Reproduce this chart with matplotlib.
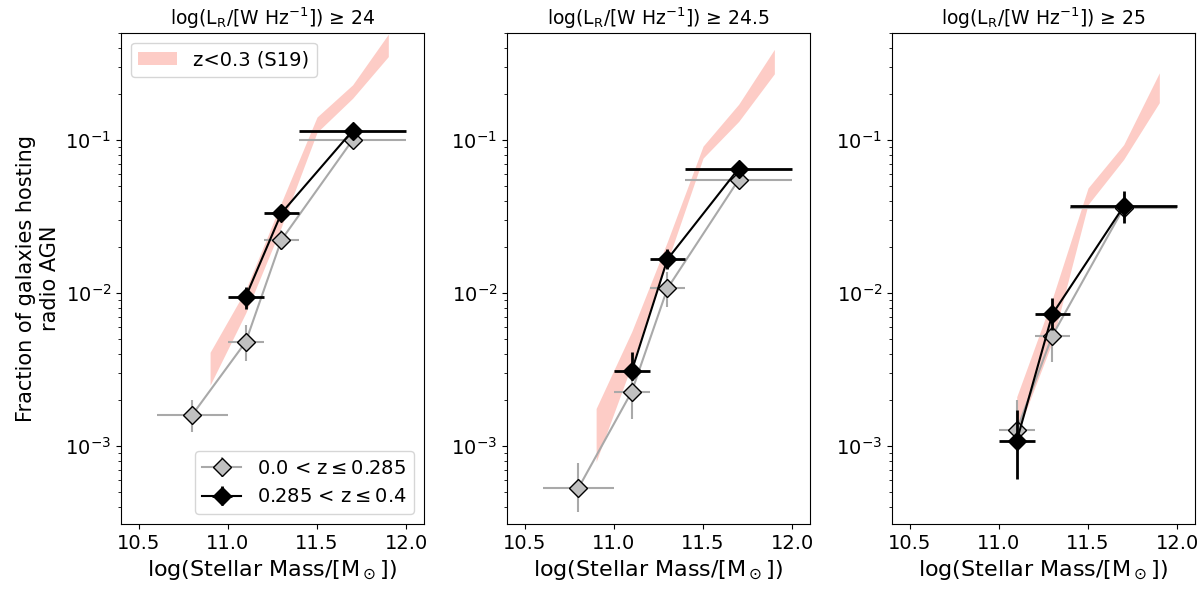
import numpy as np
import matplotlib
matplotlib.use('Agg')
import matplotlib.pyplot as plt

# stellar mass bins
mass = [10.8, 11.1, 11.3, 11.7]
mass_lo = [10.6, 11.0, 11.2, 11.4]
mass_hi = [11.0, 11.2, 11.4, 12.0]

# S19 band (z<0.3)
s19_mass = [10.9, 11.1, 11.3, 11.5, 11.7, 11.9]
s19_lo_24 = [0.0025, 0.0074, 0.027, 0.112, 0.187, 0.35]
s19_hi_24 = [0.0041, 0.0105, 0.039, 0.141, 0.229, 0.49]
s19_lo_245 = [0.00079, 0.0034, 0.016, 0.076, 0.132, 0.27]
s19_hi_245 = [0.00176, 0.0056, 0.0217, 0.091, 0.171, 0.39]
s19_mass_25 = [11.1, 11.3, 11.5, 11.7, 11.9]
s19_lo_25 = [0.00119, 0.0048, 0.0378, 0.0745, 0.175]
s19_hi_25 = [0.0021, 0.0092, 0.0485, 0.093, 0.274]

# low-z sample (0.0 < z <= 0.285)
lowz_24 = [0.0016, 0.00479, 0.0222, 0.100]
lowz_24_lo = [0.00124, 0.0036, 0.019, 0.094]
lowz_24_hi = [0.0020, 0.0062, 0.0258, 0.106]
lowz_245 = [0.00053, 0.00227, 0.0107, 0.055]
lowz_245_lo = [0.00037, 0.0015, 0.0081, 0.051]
lowz_245_hi = [0.00077, 0.0029, 0.0138, 0.058]
lowz_25 = [np.nan, 0.00127, 0.00527, 0.036]
lowz_25_lo = [np.nan, 0.00107, 0.00356, 0.030]
lowz_25_hi = [np.nan, 0.0020, 0.00684, 0.044]

# high-z sample (0.285 < z <= 0.4)
hiz_24 = [np.nan, 0.00944, 0.0332, 0.115]
hiz_24_lo = [np.nan, 0.0079, 0.031, 0.108]
hiz_24_hi = [np.nan, 0.0110, 0.036, 0.122]
hiz_245 = [np.nan, 0.0031, 0.0166, 0.065]
hiz_245_lo = [np.nan, 0.00272, 0.0143, 0.060]
hiz_245_hi = [np.nan, 0.00414, 0.0193, 0.070]
hiz_25 = [np.nan, 0.00108, 0.00727, 0.0368]
hiz_25_lo = [np.nan, 0.00061, 0.00574, 0.0286]
hiz_25_hi = [np.nan, 0.00173, 0.00925, 0.0461]

titles = [r'log(L$_{\rm R}$/[W Hz$^{-1}$]) ≥ 24',
          r'log(L$_{\rm R}$/[W Hz$^{-1}$]) ≥ 24.5',
          r'log(L$_{\rm R}$/[W Hz$^{-1}$]) ≥ 25']

panels = [
    (s19_mass, s19_lo_24, s19_hi_24, lowz_24, lowz_24_lo, lowz_24_hi, hiz_24, hiz_24_lo, hiz_24_hi),
    (s19_mass, s19_lo_245, s19_hi_245, lowz_245, lowz_245_lo, lowz_245_hi, hiz_245, hiz_245_lo, hiz_245_hi),
    (s19_mass_25, s19_lo_25, s19_hi_25, lowz_25, lowz_25_lo, lowz_25_hi, hiz_25, hiz_25_lo, hiz_25_hi),
]

fig = plt.figure(figsize=(12, 5.91), dpi=100)
lefts = [0.1008, 0.4225, 0.7433]
m = np.array(mass)
xerr = [m - np.array(mass_lo), np.array(mass_hi) - m]

for i, (sm, slo, shi, ly, lylo, lyhi, hy, hylo, hyhi) in enumerate(panels):
    ax = fig.add_axes([lefts[i], 0.1134, 0.2525, 0.831])
    ax.fill_between(sm, slo, shi, color='salmon', alpha=0.4, lw=0,
                    label='z<0.3 (S19)', zorder=1)
    ly = np.array(ly); hy = np.array(hy)
    lerr = [ly - np.array(lylo), np.array(lyhi) - ly]
    herr = [hy - np.array(hylo), np.array(hyhi) - hy]
    e1 = ax.errorbar(m, ly, xerr=xerr, yerr=lerr, fmt='-D', color='darkgray',
                     mfc='silver', mec='k', ms=9.5, lw=1.5, elinewidth=1.5,
                     zorder=2)
    e2 = ax.errorbar(m, hy, xerr=xerr, yerr=herr, fmt='-D', color='k',
                     mfc='k', mec='k', ms=9.5, lw=1.5, elinewidth=2,
                     zorder=3)
    ax.set_yscale('log')
    ax.set_ylim(3.1e-4, 0.5)
    ax.set_xlim(10.4, 12.1)
    ax.set_xticks([10.5, 11.0, 11.5, 12.0])
    ax.tick_params(labelsize=14)
    ax.set_xlabel(r'log(Stellar Mass/[M$_\odot$])', fontsize=16)
    ax.set_title(titles[i], fontsize=13.5)
    if i == 0:
        ax.set_ylabel('Fraction of galaxies hosting\nradio AGN', fontsize=15)
        band = ax.collections[0]
        leg1 = ax.legend([band], ['z<0.3 (S19)'], loc='upper left', fontsize=14)
        ax.add_artist(leg1)
        ax.legend([e1, e2], [r'0.0 < z$\leq$0.285', r'0.285 < z$\leq$0.4'],
                  loc='lower right', fontsize=14)

fig.savefig('out.png', dpi=100)
